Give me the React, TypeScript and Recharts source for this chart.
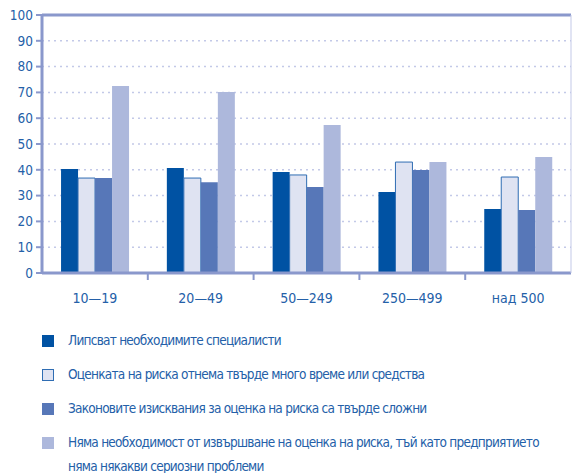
import { Bar, BarChart, CartesianGrid, ReferenceLine, XAxis, YAxis } from 'recharts';

const categories = ['10—19', '20—49', '50—249', '250—499', 'над 500'];
const lackSpecialists = [40.3, 40.7, 39.1, 31.4, 24.8];
const tooMuchTime = [36.8, 36.8, 38.0, 43.0, 37.2];
const tooComplex = [36.8, 35.2, 33.3, 39.9, 24.4];
const noNeed = [72.5, 70.2, 57.4, 43.0, 45.0];
const yTicks = [0, 10, 20, 30, 40, 50, 60, 70, 80, 90, 100];

const seriesNames = [
    'Липсват необходимите специалисти',
    'Оценката на риска отнема твърде много време или средства',
    'Законовите изисквания за оценка на риска са твърде сложни',
    'Няма необходимост от извършване на оценка на риска, тъй като предприятието няма някакви сериозни проблеми',
];

const data = categories.map((name, i) => ({
    name,
    s1: lackSpecialists[i],
    s2: tooMuchTime[i],
    s3: tooComplex[i],
    s4: noNeed[i],
}));

const FONT = '"Liberation Sans Narrow", "DejaVu Sans Condensed", "Noto Sans", sans-serif';
const TEXT = '#2460a8';
const AXIS = '#8a98cc';

const swatches = [
    { fill: '#0052a3', stroke: '#0052a3' },
    { fill: '#dfe3f2', stroke: '#2f6db3' },
    { fill: '#5777b8', stroke: '#5777b8' },
    { fill: '#adb8dc', stroke: '#adb8dc' },
];

function CategoryTick(props: any) {
    const { x, y, payload, index, width, visibleTicksCount } = props;
    const band = width / visibleTicksCount;
    return (
        <g>
            {index < visibleTicksCount - 1 && (
                <line x1={x + band / 2} x2={x + band / 2} y1={y - 8} y2={y - 1} stroke={AXIS} strokeWidth={2} />
            )}
            <text x={x} y={y + 22} textAnchor="middle" fill={TEXT} fontSize={14} fontFamily={FONT}>
                {payload.value}
            </text>
        </g>
    );
}

export default function App() {
    return (
        <div style={{ position: 'absolute', left: 0, top: 0, width: 572, height: 473, background: '#fff', fontFamily: FONT }}>
            <BarChart
                width={572}
                height={310}
                data={data}
                margin={{ top: 15, right: 0, left: 0, bottom: 7 }}
                barCategoryGap="18%"
                barGap={0}
            >
                <CartesianGrid vertical={false} stroke="#c3c9e8" strokeDasharray="2 4" strokeWidth={1.5} />
                <XAxis
                    dataKey="name"
                    height={30}
                    axisLine={{ stroke: AXIS, strokeWidth: 3 }}
                    tickLine={false}
                    tick={<CategoryTick />}
                    interval={0}
                />
                <YAxis
                    domain={[0, 100]}
                    ticks={yTicks}
                    width={42}
                    axisLine={{ stroke: AXIS, strokeWidth: 3 }}
                    tickLine={{ stroke: AXIS, strokeWidth: 2 }}
                    tickSize={6}
                    tickMargin={3}
                    tick={{ fill: TEXT, fontSize: 13.5, fontFamily: FONT }}
                />
                <YAxis
                    yAxisId="right"
                    orientation="right"
                    width={1}
                    tick={false}
                    tickLine={false}
                    axisLine={{ stroke: '#c3c9e8', strokeWidth: 1 }}
                />
                <ReferenceLine y={100} stroke={AXIS} strokeWidth={3} />
                <Bar dataKey="s1" name={seriesNames[0]} fill={swatches[0].fill} isAnimationActive={false} />
                <Bar dataKey="s2" name={seriesNames[1]} fill={swatches[1].fill} stroke={swatches[1].stroke} strokeWidth={1} isAnimationActive={false} />
                <Bar dataKey="s3" name={seriesNames[2]} fill={swatches[2].fill} isAnimationActive={false} />
                <Bar dataKey="s4" name={seriesNames[3]} fill={swatches[3].fill} isAnimationActive={false} />
            </BarChart>
            <div style={{ position: 'absolute', left: 42, top: 328, width: 530 }}>
                {seriesNames.map((n, i) => (
                    <div key={n} style={{ display: 'flex', alignItems: 'flex-start', marginBottom: 10 }}>
                        <div
                            style={{
                                width: 10,
                                height: 10,
                                marginTop: 7,
                                flex: 'none',
                                background: swatches[i].fill,
                                border: `1px solid ${swatches[i].stroke}`,
                            }}
                        />
                        <div style={{ marginLeft: 14, maxWidth: 480, color: TEXT, fontSize: 13.5, letterSpacing: -0.75, lineHeight: '24px' }}>{n}</div>
                    </div>
                ))}
            </div>
        </div>
    );
}
